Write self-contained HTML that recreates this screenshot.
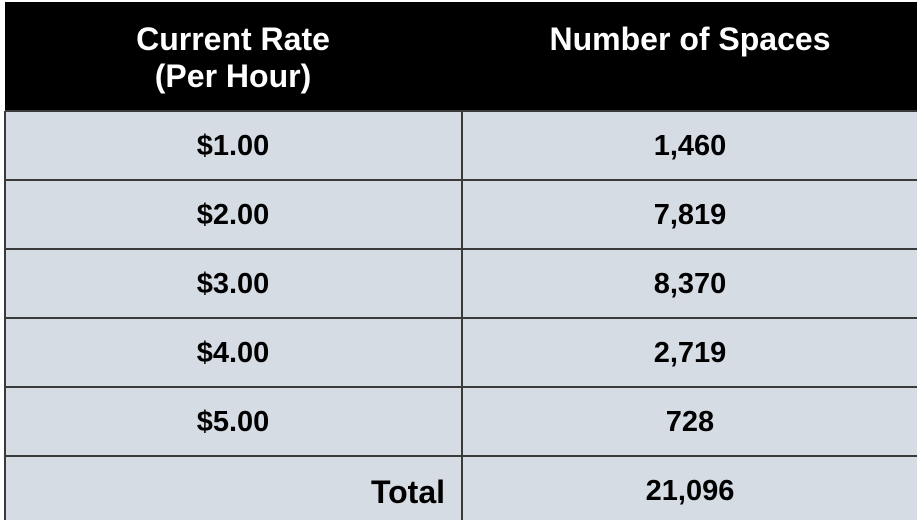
<!DOCTYPE html>
<html><head><style>
body{margin:0;width:917px;height:520px;background:#fff;overflow:hidden;font-family:"Liberation Sans",Arial,sans-serif;font-weight:bold;position:relative}
.h{position:absolute;top:2px;left:5px;width:912px;height:109px;background:#000}
.ht{position:absolute;color:#fff;font-size:32px;text-align:center;line-height:37px}
.b{position:absolute;left:5px;top:111px;width:912px;height:409px;background:#d6dce4}
.hl{position:absolute;left:5px;width:912px;height:2px;background:#3a3a3a}
.vl{position:absolute;left:461px;top:111px;width:2px;height:409px;background:#3a3a3a}
.ll{position:absolute;left:4px;top:111px;width:2px;height:409px;background:#3a3a3a}
.t{position:absolute;font-size:29px;line-height:34px;text-align:center;width:300px;color:#000}
</style></head><body>
<div class="h"></div>
<div class="ht" style="left:83px;width:300px;top:21px">Current Rate<br>(Per Hour)</div>
<div class="ht" style="left:540px;width:300px;top:21px">Number of Spaces</div>
<div class="b"></div>
<div class="ll"></div><div class="vl"></div>
<div class="hl" style="top:110px"></div>
<div class="hl" style="top:179px"></div>
<div class="hl" style="top:248px"></div>
<div class="hl" style="top:317px"></div>
<div class="hl" style="top:386px"></div>
<div class="hl" style="top:455px"></div>
<div class="t" style="left:83px;top:129px">$1.00</div><div class="t" style="left:540px;top:129px">1,460</div>
<div class="t" style="left:83px;top:198px">$2.00</div><div class="t" style="left:540px;top:198px">7,819</div>
<div class="t" style="left:83px;top:267px">$3.00</div><div class="t" style="left:540px;top:267px">8,370</div>
<div class="t" style="left:83px;top:336px">$4.00</div><div class="t" style="left:540px;top:336px">2,719</div>
<div class="t" style="left:83px;top:405px">$5.00</div><div class="t" style="left:540px;top:405px">728</div>
<div class="t" style="left:145px;top:475px;text-align:right;font-size:32px">Total</div>
<div class="t" style="left:540px;top:474px">21,096</div>
</body></html>
